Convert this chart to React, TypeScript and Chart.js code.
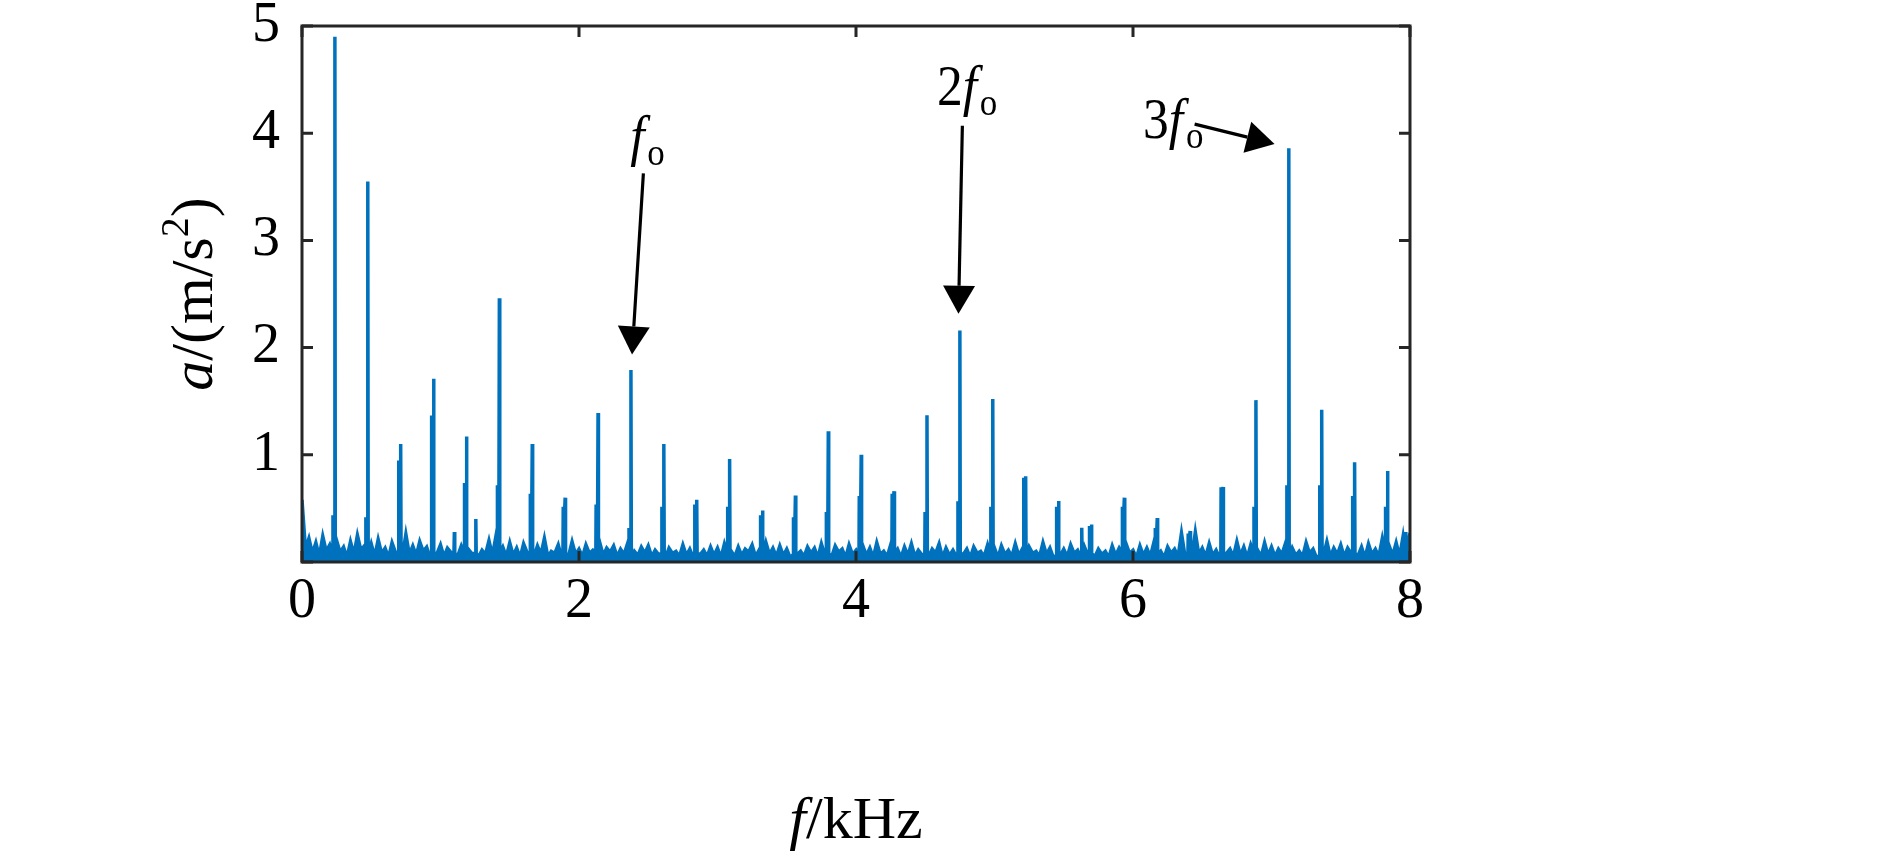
import React, { useEffect, useRef } from "react";
import { Chart, registerables } from "chart.js";

Chart.register(...registerables);

// ---------------- data ----------------
const X_TICKS = [0, 2, 4, 6, 8];
const Y_TICKS = [0, 1, 2, 3, 4, 5];

// harmonic peaks (kHz) and amplitudes (m/s^2)
const HARMONIC_FREQ = [
  0.2375, 0.475, 0.7125, 0.95, 1.1875, 1.425, 1.6625, 1.9, 2.1375, 2.375, 2.6125,
  2.85, 3.0875, 3.325, 3.5625, 3.8, 4.0375, 4.275, 4.5125, 4.75, 4.9875, 5.225,
  5.4625, 5.7, 5.9375, 6.175, 6.4125, 6.65, 6.8875, 7.125, 7.3625, 7.6, 7.8375,
];
const HARMONIC_AMP = [
  4.9, 3.55, 1.1, 1.71, 1.17, 2.46, 1.1, 0.6, 1.39, 1.79, 1.1,
  0.58, 0.96, 0.48, 0.62, 1.22, 1.0, 0.66, 1.37, 2.16, 1.52, 0.8,
  0.57, 0.35, 0.6, 0.41, 0.29, 0.7, 1.51, 3.86, 1.42, 0.93, 0.85,
];
// shoulder just left of each harmonic
const SHOULDER_AMP = [
  0.42, 0.4, 0.93, 1.35, 0.72, 0.7, 0.62, 0.5, 0.52, 0.3, 0.5,
  0.52, 0.5, 0.42, 0.4, 0.45, 0.6, 0.62, 0.45, 0.55, 0.5, 0.77,
  0.5, 0.32, 0.5, 0.3, 0.25, 0.68, 0.5, 0.7, 0.7, 0.6, 0.5,
];
// small spurious spikes
const SPUR_FREQ = [1.1, 1.255, 5.63, 7.97];
const SPUR_AMP = [0.28, 0.4, 0.32, 0.28];

// noise floor, hundredths of m/s^2, every 0.025 kHz from 0 to 8
const NOISE_STEP = 0.025;
const NOISE_FLOOR = [
  58, 12, 22, 8, 18, 5, 24, 10, 16, 6, 20, 9, 14, 4, 19, 7, 25, 11, 15, 6,
  17, 5, 21, 8, 13, 4, 18, 9, 12, 5, 26, 7, 15, 6, 19, 10, 14, 4, 22, 8,
  16, 5, 13, 9, 28, 6, 15, 4, 12, 8, 18, 5, 11, 7, 20, 6, 24, 9, 14, 5,
  18, 6, 13, 4, 17, 9, 12, 5, 15, 7, 22, 5, 10, 8, 16, 4, 13, 6, 19, 7,
  12, 5, 16, 8, 11, 4, 18, 6, 13, 9, 15, 5, 12, 7, 17, 4, 10, 6, 14, 8,
  15, 5, 11, 7, 18, 4, 13, 8, 10, 5, 16, 6, 12, 4, 19, 7, 11, 5, 14, 6,
  13, 4, 17, 8, 10, 5, 14, 6, 12, 9, 16, 5, 11, 4, 18, 7, 13, 5, 15, 6,
  12, 4, 16, 7, 10, 5, 14, 8, 13, 4, 17, 6, 11, 5, 15, 9, 12, 4, 16, 7,
  11, 5, 15, 6, 13, 4, 18, 7, 10, 5, 16, 8, 12, 4, 14, 6, 17, 5, 11, 7,
  15, 5, 12, 8, 17, 4, 13, 6, 11, 5, 19, 7, 12, 4, 14, 8, 10, 5, 16, 6,
  13, 4, 15, 7, 11, 5, 17, 6, 12, 4, 14, 8, 10, 5, 18, 7, 13, 4, 15, 6,
  12, 5, 16, 8, 11, 4, 14, 6, 19, 5, 12, 7, 10, 4, 15, 6, 13, 5, 17, 8,
  11, 4, 15, 6, 13, 5, 18, 7, 10, 4, 14, 8, 12, 5, 27, 6, 16, 4, 28, 7,
  13, 5, 17, 6, 11, 4, 15, 8, 12, 5, 19, 6, 14, 4, 16, 7, 11, 5, 18, 6,
  14, 5, 12, 7, 17, 4, 13, 6, 10, 5, 18, 8, 12, 4, 15, 6, 19, 5, 13, 7,
  16, 5, 13, 8, 20, 6, 14, 4, 17, 7, 12, 5, 22, 9, 15, 6, 18, 5, 24, 8,
  27,
];

// annotations: label prefix, text origin (kHz, value), arrow from -> to
const ANNOTATIONS = [
  { prefix: "", tx: 2.37, ty: 3.8, from: [2.465, 3.626], to: [2.383, 1.936] },
  { prefix: "2", tx: 4.584, ty: 4.26, from: [4.768, 4.07], to: [4.74, 2.316] },
  { prefix: "3", tx: 6.073, ty: 3.955, from: [6.445, 4.085], to: [7.022, 3.9] },
];

// ---------------- styles ----------------
const FONT = '"Liberation Serif", "Times New Roman", serif';
const LINE_COLOR = "#0072BD";
const AXIS_COLOR = "#262626";
const TICK_LEN = 11;

function buildSpectrum() {
  const peaks = HARMONIC_FREQ.map((f, i) => ({ f, a: HARMONIC_AMP[i], s: SHOULDER_AMP[i] })).concat(
    SPUR_FREQ.map((f, i) => ({ f, a: SPUR_AMP[i], s: 0 }))
  );
  const pts: { x: number; y: number }[] = [];
  NOISE_FLOOR.forEach((v, i) => {
    const x = i * NOISE_STEP;
    if (peaks.some((p) => x > p.f - 0.02 && x < p.f + 0.006)) return;
    pts.push({ x, y: v / 100 });
  });
  peaks.forEach((p) => {
    const idx = Math.round(p.f / NOISE_STEP);
    const foot = Math.min(NOISE_FLOOR[idx] / 100, 0.08);
    if (p.s > 0) {
      pts.push({ x: p.f - 0.016, y: foot }, { x: p.f - 0.014, y: p.s }, { x: p.f - 0.003, y: p.s });
    } else {
      pts.push({ x: p.f - 0.003, y: foot });
    }
    pts.push({ x: p.f, y: p.a }, { x: p.f + 0.003, y: foot });
  });
  pts.sort((a, b) => a.x - b.x);
  return pts;
}

function drawArrow(ctx: CanvasRenderingContext2D, x1: number, y1: number, x2: number, y2: number) {
  const headLen = 28;
  const headHalf = 16;
  const ang = Math.atan2(y2 - y1, x2 - x1);
  const bx = x2 - headLen * Math.cos(ang);
  const by = y2 - headLen * Math.sin(ang);
  ctx.beginPath();
  ctx.moveTo(x1, y1);
  ctx.lineTo(bx, by);
  ctx.stroke();
  ctx.beginPath();
  ctx.moveTo(x2, y2);
  ctx.lineTo(bx + headHalf * Math.sin(ang), by - headHalf * Math.cos(ang));
  ctx.lineTo(bx - headHalf * Math.sin(ang), by + headHalf * Math.cos(ang));
  ctx.closePath();
  ctx.fill();
}

function drawHarmonicLabel(ctx: CanvasRenderingContext2D, x: number, y: number, prefix: string) {
  ctx.save();
  ctx.translate(x, y);
  ctx.scale(0.92, 1);
  ctx.textAlign = "left";
  ctx.textBaseline = "alphabetic";
  let cx = 0;
  if (prefix) {
    ctx.font = `56px ${FONT}`;
    ctx.fillText(prefix, 0, 0);
    cx += ctx.measureText(prefix).width;
  }
  ctx.font = `italic 56px ${FONT}`;
  ctx.fillText("f", cx, 0);
  cx += ctx.measureText("f").width + 3;
  ctx.font = `38px ${FONT}`;
  ctx.fillText("o", cx, 10);
  ctx.restore();
}

const framePlugin = {
  id: "matlabFrame",
  afterDatasetsDraw(chart: any) {
    const { ctx, chartArea } = chart;
    const { left, right, top, bottom } = chartArea;
    const xs = chart.scales.x;
    const ys = chart.scales.y;
    ctx.save();
    ctx.strokeStyle = AXIS_COLOR;
    ctx.lineWidth = 3;
    ctx.beginPath();
    X_TICKS.forEach((v) => {
      const px = xs.getPixelForValue(v);
      ctx.moveTo(px, bottom);
      ctx.lineTo(px, bottom - TICK_LEN);
      ctx.moveTo(px, top);
      ctx.lineTo(px, top + TICK_LEN);
    });
    Y_TICKS.forEach((v) => {
      const py = ys.getPixelForValue(v);
      ctx.moveTo(left, py);
      ctx.lineTo(left + TICK_LEN, py);
      ctx.moveTo(right, py);
      ctx.lineTo(right - TICK_LEN, py);
    });
    ctx.stroke();
    ctx.lineJoin = "miter";
    ctx.strokeRect(left, top, right - left, bottom - top);
    ctx.restore();
  },
  afterDraw(chart: any) {
    const { ctx, chartArea } = chart;
    const xs = chart.scales.x;
    const ys = chart.scales.y;
    ctx.save();
    ctx.fillStyle = "#000";
    ctx.strokeStyle = "#000";
    ctx.lineWidth = 3.2;
    ANNOTATIONS.forEach((a) => {
      drawArrow(
        ctx,
        xs.getPixelForValue(a.from[0]),
        ys.getPixelForValue(a.from[1]),
        xs.getPixelForValue(a.to[0]),
        ys.getPixelForValue(a.to[1])
      );
      drawHarmonicLabel(ctx, xs.getPixelForValue(a.tx), ys.getPixelForValue(a.ty), a.prefix);
    });

    // x-axis title: f/kHz
    const xMid = (chartArea.left + chartArea.right) / 2;
    const parts1 = [
      { t: "f", f: `italic 60px ${FONT}` },
      { t: "/kHz", f: `60px ${FONT}` },
    ];
    let w = 0;
    parts1.forEach((p) => {
      ctx.font = p.f;
      w += ctx.measureText(p.t).width;
    });
    let cx = xMid - w / 2;
    ctx.textBaseline = "alphabetic";
    ctx.textAlign = "left";
    parts1.forEach((p) => {
      ctx.font = p.f;
      ctx.fillText(p.t, cx, 838);
      cx += ctx.measureText(p.t).width;
    });

    // y-axis title: a/(m/s^2)
    const yMid = (chartArea.top + chartArea.bottom) / 2;
    const parts2 = [
      { t: "a", f: `italic 60px ${FONT}`, dy: 0 },
      { t: "/(m/s", f: `60px ${FONT}`, dy: 0 },
      { t: "2", f: `40px ${FONT}`, dy: -24 },
      { t: ")", f: `60px ${FONT}`, dy: 0 },
    ];
    w = 0;
    parts2.forEach((p) => {
      ctx.font = p.f;
      w += ctx.measureText(p.t).width;
    });
    ctx.translate(212, yMid);
    ctx.rotate(-Math.PI / 2);
    cx = -w / 2;
    parts2.forEach((p) => {
      ctx.font = p.f;
      ctx.fillText(p.t, cx, p.dy);
      cx += ctx.measureText(p.t).width;
    });
    ctx.restore();
  },
};

export default function App() {
  const ref = useRef<HTMLCanvasElement>(null);
  useEffect(() => {
    const canvas = ref.current;
    if (!canvas) return;
    const chart = new Chart(canvas, {
      type: "line",
      data: {
        datasets: [
          {
            data: buildSpectrum(),
            borderColor: LINE_COLOR,
            backgroundColor: LINE_COLOR,
            borderWidth: 3.5,
            pointRadius: 0,
            tension: 0,
            fill: "origin",
          },
        ],
      },
      options: {
        responsive: false,
        animation: false,
        devicePixelRatio: 1,
        parsing: false,
        normalized: true,
        layout: { padding: { left: 202, top: 26, right: 480, bottom: 223 } },
        plugins: { legend: { display: false }, tooltip: { enabled: false } },
        scales: {
          x: {
            type: "linear",
            min: 0,
            max: 8,
            afterBuildTicks: (s: any) => {
              s.ticks = X_TICKS.map((v) => ({ value: v }));
            },
            grid: { display: false, drawTicks: false },
            border: { display: false },
            ticks: {
              color: "#000",
              font: { family: FONT, size: 56, lineHeight: 1 },
              padding: 12,
              maxRotation: 0,
              autoSkip: false,
            },
            afterFit: (s: any) => {
              s.height = 80;
              s.paddingLeft = 0;
              s.paddingRight = 0;
            },
          },
          y: {
            type: "linear",
            min: 0,
            max: 5,
            afterBuildTicks: (s: any) => {
              s.ticks = Y_TICKS.map((v) => ({ value: v }));
            },
            grid: { display: false, drawTicks: false },
            border: { display: false },
            ticks: {
              color: "#000",
              font: { family: FONT, size: 56, lineHeight: 1 },
              padding: 22,
              autoSkip: false,
              callback: (v: any) => (v === 0 ? "" : String(v)),
            },
            afterFit: (s: any) => {
              s.width = 100;
              s.paddingTop = 0;
              s.paddingBottom = 0;
            },
          },
        },
      },
      plugins: [framePlugin],
    });
    return () => chart.destroy();
  }, []);
  return (
    <div style={{ position: "fixed", left: 0, top: 0, width: 1890, height: 865, background: "#fff" }}>
      <canvas ref={ref} width={1890} height={865} style={{ display: "block", width: 1890, height: 865 }} />
    </div>
  );
}
